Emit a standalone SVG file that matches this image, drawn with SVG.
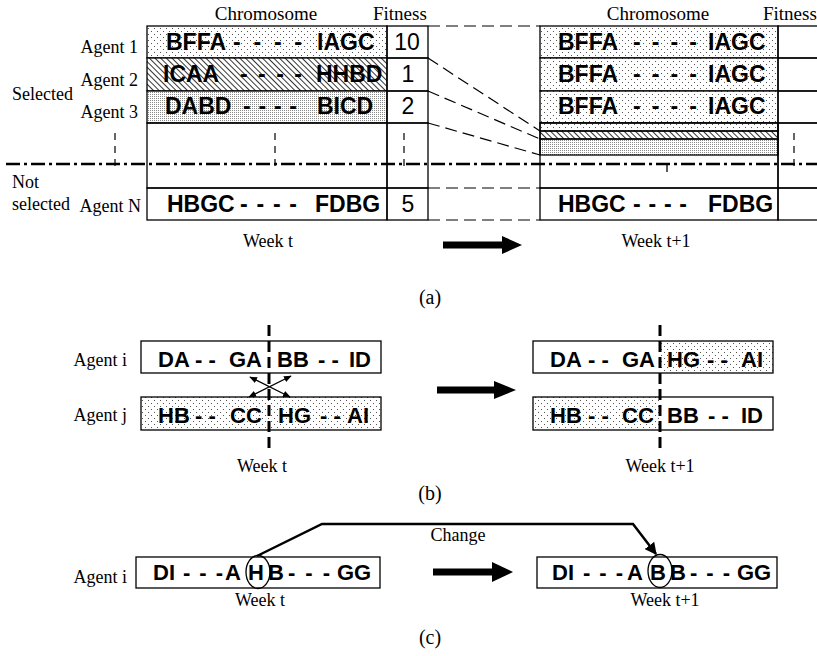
<svg xmlns="http://www.w3.org/2000/svg" width="817" height="656" viewBox="0 0 817 656">
<style>
.lbl{font-family:"Liberation Serif","Times New Roman",serif;font-size:18px;fill:#000}
.cap{font-family:"Liberation Serif","Times New Roman",serif;font-size:20px;fill:#000;text-anchor:middle}
.mid{text-anchor:middle}
.end{text-anchor:end}
.chr{font-family:"Liberation Sans",Arial,sans-serif;font-weight:bold;font-size:23px;fill:#000}
.chb{font-family:"Liberation Sans",Arial,sans-serif;font-weight:bold;font-size:22px;fill:#000}
.chc{font-family:"Liberation Sans",Arial,sans-serif;font-weight:bold;font-size:22px;fill:#000}
.num{font-family:"Liberation Sans",Arial,sans-serif;font-size:23px;fill:#000;text-anchor:middle}
.box{fill:none;stroke:#000;stroke-width:1.3}
.ln{fill:none;stroke:#000;stroke-width:1.3}
.dsh{fill:none;stroke:#000;stroke-width:1.2;stroke-dasharray:12 6}
.tick{fill:none;stroke:#000;stroke-width:1.2;stroke-dasharray:7 6}
.cut{fill:none;stroke:#000;stroke-width:3;stroke-dasharray:11 5}
.dd{fill:none;stroke:#000;stroke-width:2.4;stroke-dasharray:14 4 3 4}
.big{fill:#000}
</style>
<defs>
<pattern id="dots" width="6" height="6" patternUnits="userSpaceOnUse"><rect width="6" height="6" fill="#fff"/><rect x="1" y="1" width="1" height="1" fill="#555"/><rect x="4" y="4" width="1" height="1" fill="#555"/></pattern>
<pattern id="dense" width="2" height="2" patternUnits="userSpaceOnUse"><rect width="2" height="2" fill="#fff"/><rect x="0" y="0" width="1" height="1" fill="#8a8a8a"/></pattern>
<pattern id="hatch" width="4" height="10" patternUnits="userSpaceOnUse" patternTransform="rotate(-45)"><rect width="4" height="10" fill="#fff"/><line x1="0.5" y1="0" x2="0.5" y2="10" stroke="#000" stroke-width="0.8"/></pattern>
<marker id="ah" viewBox="0 0 10 10" refX="9" refY="5" markerWidth="6" markerHeight="6" orient="auto-start-reverse"><path d="M0,1 L10,5 L0,9 z" fill="#000"/></marker>
<marker id="ahc" viewBox="0 0 10 10" refX="9" refY="5" markerWidth="12" markerHeight="12" markerUnits="userSpaceOnUse" orient="auto"><path d="M0,0 L10,5 L0,10 z" fill="#000"/></marker>
</defs>

<!-- ===== (a) ===== -->
<g id="a-headers">
<text class="lbl mid" x="266" y="20" style="font-size:19px">Chromosome</text>
<text class="lbl" x="373" y="20" style="font-size:19px">Fitness</text>
<text class="lbl mid" x="658" y="20" style="font-size:19px">Chromosome</text>
<text class="lbl" x="763" y="20" style="font-size:19px">Fitness</text>
<text class="lbl" x="12" y="100">Selected</text>
<text class="lbl" x="12" y="188">Not</text>
<text class="lbl" x="12" y="210">selected</text>
</g>

<g id="a-t-agent1">
<rect x="147" y="26" width="240" height="32" fill="url(#dots)"/>
<rect class="box" x="147" y="26" width="240" height="32"/>
<rect class="box" x="387" y="26" width="41" height="32"/>
<text class="lbl end" x="138" y="53">Agent 1</text>
<text class="chr" x="166" y="50">BFFA</text>
<text class="chr" x="233" y="50" textLength="69" lengthAdjust="spacing">- - - -</text>
<text class="chr" x="317" y="50">IAGC</text>
<text class="num" x="407" y="50">10</text>
</g>
<g id="a-t-agent2">
<rect x="147" y="58" width="240" height="33" fill="url(#hatch)"/>
<rect class="box" x="147" y="58" width="240" height="33"/>
<rect class="box" x="387" y="58" width="41" height="33"/>
<text class="lbl end" x="138" y="86">Agent 2</text>
<text class="chr" x="163" y="82">ICAA</text>
<text class="chr" x="240" y="82" textLength="62" lengthAdjust="spacing">- - - -</text>
<text class="chr" x="316" y="82">HHBD</text>
<text class="num" x="408" y="82">1</text>
</g>
<g id="a-t-agent3">
<rect x="147" y="91" width="240" height="32" fill="url(#dense)"/>
<rect class="box" x="147" y="91" width="240" height="32"/>
<rect class="box" x="387" y="91" width="41" height="32"/>
<text class="lbl end" x="138" y="118">Agent 3</text>
<text class="chr" x="165" y="114">DABD</text>
<text class="chr" x="243" y="114" textLength="54" lengthAdjust="spacing">- - - -</text>
<text class="chr" x="317" y="114">BICD</text>
<text class="num" x="408" y="114">2</text>
</g>
<g id="a-t-gap">
<rect class="box" x="147" y="123" width="240" height="65"/>
<rect class="box" x="387" y="123" width="41" height="65"/>
<line class="tick" x1="115" y1="133" x2="115" y2="172"/>
<line class="tick" x1="275" y1="133" x2="275" y2="172"/>
<line class="tick" x1="404" y1="133" x2="404" y2="172"/>
</g>
<g id="a-t-agentN">
<rect class="box" x="147" y="188" width="240" height="32"/>
<rect class="box" x="387" y="188" width="41" height="32"/>
<text class="lbl end" x="141" y="212">Agent N</text>
<text class="chr" x="167" y="212">HBGC</text>
<text class="chr" x="240" y="212" textLength="57" lengthAdjust="spacing">- - - -</text>
<text class="chr" x="315" y="212">FDBG</text>
<text class="num" x="408" y="212">5</text>
</g>

<g id="a-t1-row1">
<rect x="540" y="26" width="238" height="32" fill="url(#dots)"/>
<rect class="box" x="540" y="26" width="238" height="32"/>
<rect class="box" x="778" y="26" width="60" height="32"/>
<text class="chr" x="558" y="50">BFFA</text>
<text class="chr" x="633" y="50" textLength="64" lengthAdjust="spacing">- - - -</text>
<text class="chr" x="708" y="50">IAGC</text>
</g>
<g id="a-t1-row2">
<rect x="540" y="58" width="238" height="33" fill="url(#dots)"/>
<rect class="box" x="540" y="58" width="238" height="33"/>
<rect class="box" x="778" y="58" width="60" height="33"/>
<text class="chr" x="558" y="82">BFFA</text>
<text class="chr" x="633" y="82" textLength="64" lengthAdjust="spacing">- - - -</text>
<text class="chr" x="708" y="82">IAGC</text>
</g>
<g id="a-t1-row3">
<rect x="540" y="91" width="238" height="32" fill="url(#dots)"/>
<rect class="box" x="540" y="91" width="238" height="32"/>
<rect class="box" x="778" y="91" width="60" height="32"/>
<text class="chr" x="558" y="114">BFFA</text>
<text class="chr" x="633" y="114" textLength="64" lengthAdjust="spacing">- - - -</text>
<text class="chr" x="708" y="114">IAGC</text>
</g>
<g id="a-t1-gap">
<rect x="540" y="123" width="238" height="8" fill="url(#dots)"/>
<rect x="540" y="131" width="238" height="8" fill="url(#hatch)"/>
<rect x="540" y="139" width="238" height="16" fill="url(#dense)"/>
<rect class="box" x="540" y="123" width="238" height="8"/>
<rect class="box" x="540" y="131" width="238" height="8"/>
<rect class="box" x="540" y="139" width="238" height="16"/>
<rect class="box" x="540" y="123" width="238" height="65"/>
<rect class="box" x="778" y="123" width="60" height="65"/>
<line class="tick" x1="794" y1="133" x2="794" y2="172"/>
<line class="ln" x1="667" y1="164" x2="667" y2="172"/>
</g>
<g id="a-t1-rowN">
<rect class="box" x="540" y="188" width="238" height="32"/>
<rect class="box" x="778" y="188" width="60" height="32"/>
<text class="chr" x="558" y="212">HBGC</text>
<text class="chr" x="633" y="212" textLength="54" lengthAdjust="spacing">- - - -</text>
<text class="chr" x="708" y="212">FDBG</text>
</g>
<g id="a-captions">
<text class="lbl mid" x="268" y="247">Week t</text>
<text class="lbl mid" x="656" y="247">Week  t+1</text>
<text class="cap" x="430" y="304">(a)</text>
</g>

<!-- ===== (b) ===== -->
<g id="b-t-agenti">
<rect class="box" x="141" y="341" width="240" height="32"/>
<text class="lbl end" x="127" y="366">Agent i</text>
<text class="chb" x="158" y="367">DA</text><text class="chb" x="195" y="367">- -</text><text class="chb" x="229" y="367">GA</text>
<text class="chb" x="277" y="367">BB</text><text class="chb" x="318" y="367">- -</text><text class="chb" x="349" y="367">ID</text>
</g>
<g id="b-t-agentj">
<rect x="141" y="397" width="240" height="33" fill="url(#dots)"/>
<rect class="box" x="141" y="397" width="240" height="33"/>
<text class="lbl end" x="127" y="421">Agent j</text>
<text class="chb" x="158" y="423">HB</text><text class="chb" x="195" y="423">- -</text><text class="chb" x="230" y="423">CC</text>
<text class="chb" x="278" y="423">HG</text><text class="chb" x="320" y="423">- -</text><text class="chb" x="347" y="423">AI</text>
</g>
<g id="b-t1-agenti">
<rect x="660" y="341" width="113" height="32" fill="url(#dots)"/>
<rect class="box" x="533" y="341" width="240" height="32"/>
<text class="chb" x="550" y="367">DA</text><text class="chb" x="588" y="367">- -</text><text class="chb" x="622" y="367">GA</text>
<text class="chb" x="667" y="367">HG</text><text class="chb" x="707" y="367">- -</text><text class="chb" x="741" y="367">AI</text>
</g>
<g id="b-t1-agentj">
<rect x="533" y="397" width="127" height="33" fill="url(#dots)"/>
<rect class="box" x="533" y="397" width="240" height="33"/>
<text class="chb" x="550" y="423">HB</text><text class="chb" x="588" y="423">- -</text><text class="chb" x="622" y="423">CC</text>
<text class="chb" x="667" y="423">BB</text><text class="chb" x="708" y="423">- -</text><text class="chb" x="741" y="423">ID</text>
</g>
<g id="b-captions">
<text class="lbl mid" x="262" y="472">Week t</text>
<text class="lbl mid" x="660" y="472">Week t+1</text>
<text class="cap" x="430" y="500">(b)</text>
</g>

<!-- ===== (c) ===== -->
<g id="c-t-agenti">
<rect class="box" x="136" y="557" width="244" height="31"/>
<text class="lbl end" x="127" y="583">Agent i</text>
<text class="chc" x="153" y="580">DI</text>
<text class="chc" x="183" y="580" textLength="40" lengthAdjust="spacing">- - -</text>
<text class="chc" x="225" y="580">A</text><text class="chc" x="248" y="580">H</text><text class="chc" x="268" y="580">B</text>
<text class="chc" x="288" y="580" textLength="42" lengthAdjust="spacing">- - -</text>
<text class="chc" x="337" y="580">GG</text>
<ellipse class="ln" cx="258" cy="572" rx="12" ry="16.5"/>
</g>
<g id="c-t1-agenti">
<rect class="box" x="537" y="557" width="240" height="31"/>
<text class="chc" x="552" y="580">DI</text>
<text class="chc" x="583" y="580" textLength="40" lengthAdjust="spacing">- - -</text>
<text class="chc" x="627" y="580">A</text><text class="chc" x="650" y="580">B</text><text class="chc" x="670" y="580">B</text>
<text class="chc" x="690" y="580" textLength="40" lengthAdjust="spacing">- - -</text>
<text class="chc" x="737" y="580">GG</text>
<ellipse class="ln" cx="660" cy="571" rx="12" ry="16.5"/>
</g>
<g id="c-captions">
<text class="lbl mid" x="458" y="541">Change</text>
<text class="lbl mid" x="260" y="606">Week t</text>
<text class="lbl mid" x="665" y="606">Week t+1</text>
<text class="cap" x="430" y="644">(c)</text>
</g>

<!-- ===== connectors ===== -->
<g id="connectors">
<line class="dd" x1="6" y1="164" x2="817" y2="164"/>
<line class="dsh" x1="428" y1="26" x2="540" y2="26"/>
<line class="dsh" x1="428" y1="188" x2="540" y2="188"/>
<line class="dsh" x1="428" y1="220" x2="540" y2="220"/>
<line class="dsh" x1="428" y1="58" x2="540" y2="131"/>
<line class="dsh" x1="428" y1="91" x2="540" y2="139"/>
<line class="dsh" x1="428" y1="123" x2="540" y2="155"/>
<polygon class="big" points="443,241.5 502,241.5 502,236 522,245 502,254 502,248.5 443,248.5"/>
<line class="cut" x1="269" y1="325" x2="269" y2="448"/>
<line class="cut" x1="660" y1="325" x2="660" y2="448"/>
<line stroke="#000" stroke-width="1.3" x1="250" y1="377" x2="290" y2="397" marker-start="url(#ah)" marker-end="url(#ah)"/>
<line stroke="#000" stroke-width="1.3" x1="291" y1="376" x2="249" y2="397" marker-start="url(#ah)" marker-end="url(#ah)"/>
<polygon class="big" points="437,386.5 494,386.5 494,381 516,390 494,399 494,393.5 437,393.5"/>
<polyline fill="none" stroke="#000" stroke-width="2.5" stroke-linejoin="miter" points="257,556 322,524 633,524 656,554" marker-end="url(#ahc)"/>
<polygon class="big" points="433,568.5 492,568.5 492,562 513,572 492,582 492,575.5 433,575.5"/>
</g>
</svg>
